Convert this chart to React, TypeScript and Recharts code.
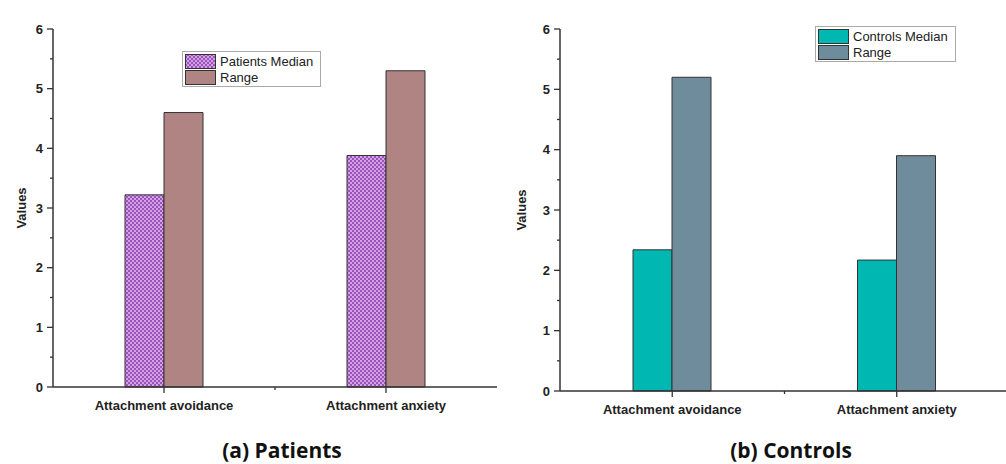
import React from 'react';
import { BarChart, Bar, XAxis, YAxis, Legend } from 'recharts';

const categories = ['Attachment avoidance', 'Attachment anxiety'];
const patientsMedian = [3.22, 3.88];
const patientsRange = [4.6, 5.3];
const controlsMedian = [2.34, 2.17];
const controlsRange = [5.2, 3.9];
const yTicks = [0, 0.5, 1, 1.5, 2, 2.5, 3, 3.5, 4, 4.5, 5, 5.5, 6];

const patientsData = categories.map((name, i) => ({ name, median: patientsMedian[i], range: patientsRange[i] }));
const controlsData = categories.map((name, i) => ({ name, median: controlsMedian[i], range: controlsRange[i] }));

const AXIS = '#333';
const LABEL_FONT = 'Arial, "Liberation Sans", sans-serif';

const YTick = (props: any) => {
  const { x, y, payload } = props;
  const major = Number.isInteger(payload.value);
  return (
    <g>
      <line x1={x - (major ? 6 : 3)} x2={x} y1={y} y2={y} stroke={AXIS} strokeWidth={1.3} />
      {major && (
        <text x={x - 10} y={y} dy={4.5} textAnchor="end" fontSize={13} fontWeight="bold" fill="#222" fontFamily={LABEL_FONT}>
          {payload.value}
        </text>
      )}
    </g>
  );
};

const XTick = (props: any) => {
  const { x, y, payload, index } = props;
  const half = payload.offset ?? 111;
  return (
    <g>
      <line x1={x} x2={x} y1={y} y2={y + 6} stroke={AXIS} strokeWidth={1.3} />
      {index === 0 && <line x1={x + half} x2={x + half} y1={y} y2={y + 3} stroke={AXIS} strokeWidth={1.3} />}
      <text x={x} y={y + 23} textAnchor="middle" fontSize={13} fontWeight="bold" fill="#222" fontFamily={LABEL_FONT}>
        {payload.value}
      </text>
    </g>
  );
};

const valuesLabel = (props: any) => {
  const { viewBox } = props;
  const cx = viewBox.x + 22;
  const cy = viewBox.y + viewBox.height / 2;
  return (
    <text x={cx} y={cy} transform={`rotate(-90 ${cx} ${cy})`} textAnchor="middle" dy={4} fontSize={13} fontWeight="bold" fill="#222" fontFamily={LABEL_FONT}>
      Values
    </text>
  );
};

const makeLegend = (items: { label: string; fill: string }[], width: number) => () => (
  <div style={{ width, boxSizing: 'border-box', border: '1px solid #aaa', background: '#fff', padding: '1px 2px', fontFamily: LABEL_FONT, fontSize: 13, color: '#222', whiteSpace: 'nowrap', textAlign: 'left' }}>
    {items.map((it) => (
      <div key={it.label} style={{ display: 'flex', alignItems: 'center', height: 16 }}>
        <svg width={31} height={15} style={{ marginRight: 4, flex: 'none' }}>
          <rect x={0.5} y={0.5} width={30} height={14} fill={it.fill} stroke={AXIS} strokeWidth={1} />
        </svg>
        <span>{it.label}</span>
      </div>
    ))}
  </div>
);

const titleStyle: React.CSSProperties = {
  position: 'absolute',
  top: 436,
  fontFamily: '"Open Sans", sans-serif',
  fontWeight: 'bold',
  fontSize: 21,
  color: '#111',
  textAlign: 'center',
  width: 300,
};

export default function App() {
  return (
    <div style={{ position: 'absolute', left: 0, top: 0, width: 1006, height: 464, overflow: 'hidden', background: '#fff' }}>
      <svg width={0} height={0} style={{ position: 'absolute' }}>
        <defs>
          <pattern id="pchk" width={4} height={4} patternUnits="userSpaceOnUse">
            <rect width={4} height={4} fill="#9c52bb" />
            <rect width={2} height={2} fill="#d2a2e4" />
            <rect x={2} y={2} width={2} height={2} fill="#d2a2e4" />
          </pattern>
        </defs>
      </svg>

      <div style={{ position: 'absolute', left: 0, top: 0 }}>
        <BarChart width={500} height={425} data={patientsData} margin={{ top: 29, right: 3, left: 0, bottom: 8 }} barGap={0}>
          <XAxis dataKey="name" height={30} tickSize={0} tickMargin={0} tick={<XTick />} axisLine={{ stroke: AXIS, strokeWidth: 1.5 }} tickLine={false} interval={0} />
          <YAxis width={53} domain={[0, 6]} ticks={yTicks} interval={0} tickSize={0} tickMargin={0} tick={<YTick />} tickLine={false} axisLine={{ stroke: AXIS, strokeWidth: 1.5 }} label={valuesLabel} />
          <Legend
            layout="horizontal"
            verticalAlign="middle"
            align="center"
            wrapperStyle={{ left: 182, top: 51, width: 139 }}
            content={makeLegend([{ label: 'Patients Median', fill: 'url(#pchk)' }, { label: 'Range', fill: '#b08482' }], 139)}
          />
          <Bar dataKey="median" name="Patients Median" barSize={39} fill="url(#pchk)" stroke={AXIS} strokeWidth={1} isAnimationActive={false} />
          <Bar dataKey="range" name="Range" barSize={39} fill="#b08482" stroke={AXIS} strokeWidth={1} isAnimationActive={false} />
        </BarChart>
      </div>

      <div style={{ position: 'absolute', left: 500, top: 0 }}>
        <BarChart width={509} height={425} data={controlsData} margin={{ top: 29, right: 0, left: 0, bottom: 4 }} barGap={0}>
          <XAxis dataKey="name" height={30} tickSize={0} tickMargin={0} tick={<XTick />} axisLine={{ stroke: AXIS, strokeWidth: 1.5 }} tickLine={false} interval={0} />
          <YAxis width={60} domain={[0, 6]} ticks={yTicks} interval={0} tickSize={0} tickMargin={0} tick={<YTick />} tickLine={false} axisLine={{ stroke: AXIS, strokeWidth: 1.5 }} label={valuesLabel} />
          <Legend
            layout="horizontal"
            verticalAlign="middle"
            align="center"
            wrapperStyle={{ left: 315, top: 26, width: 141 }}
            content={makeLegend([{ label: 'Controls Median', fill: '#00b7b2' }, { label: 'Range', fill: '#6f8c9c' }], 141)}
          />
          <Bar dataKey="median" name="Controls Median" barSize={39} fill="#00b7b2" stroke={AXIS} strokeWidth={1} isAnimationActive={false} />
          <Bar dataKey="range" name="Range" barSize={39} fill="#6f8c9c" stroke={AXIS} strokeWidth={1} isAnimationActive={false} />
        </BarChart>
      </div>

      <div style={{ ...titleStyle, left: 132 }}>(a) Patients</div>
      <div style={{ ...titleStyle, left: 641 }}>(b) Controls</div>
    </div>
  );
}
